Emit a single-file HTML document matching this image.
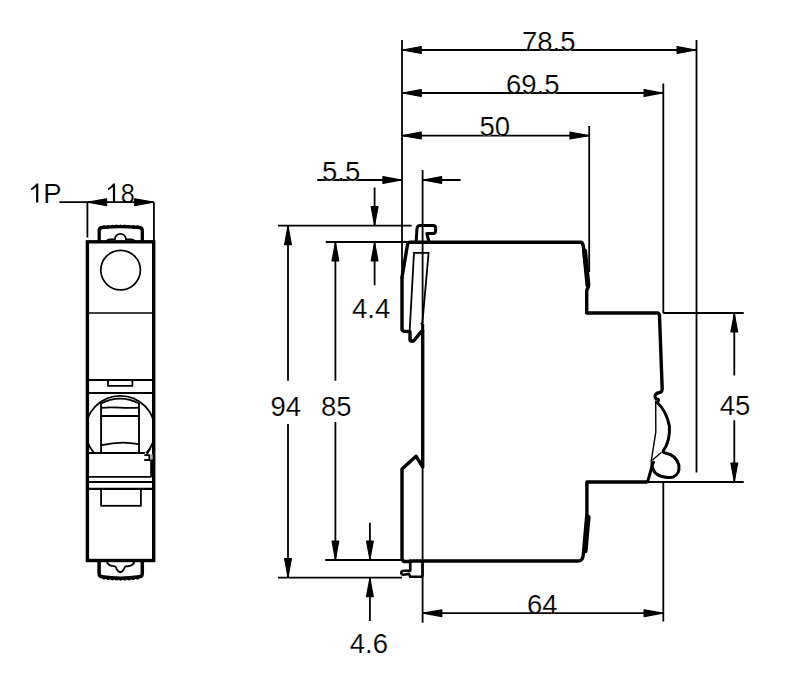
<!DOCTYPE html>
<html><head><meta charset="utf-8">
<style>
html,body{margin:0;padding:0;background:#fff;}
svg{display:block;}
text{font-family:"Liberation Sans",sans-serif;font-size:27.5px;fill:#000;stroke:#fff;stroke-width:0.2px;}
.t{stroke:#000;stroke-width:1.8;fill:none;stroke-linecap:butt;}
.k{stroke:#000;stroke-width:3.4;fill:none;stroke-linejoin:round;stroke-linecap:round;}
.m{stroke:#000;stroke-width:2.3;fill:none;stroke-linejoin:round;stroke-linecap:round;}
.a{fill:#000;stroke:#000;stroke-width:1.2;stroke-linejoin:round;}
</style></head>
<body>
<svg width="792" height="696" viewBox="0 0 792 696">
<rect width="792" height="696" fill="#fff"/>

<!-- ===== LEFT FRONT VIEW ===== -->
<path fill="#000" d="M38.3,183.6V202.6H36.1V187Q34.3,189 31.1,190.2V188.4Q34.6,186.4 36.5,183.6Z"/>
<text x="43.3" y="203">P</text>
<path fill="#000" d="M115.1,183.6V202.2H112.9V187Q111.1,189 107.9,190.2V188.4Q111.4,186.4 113.3,183.6Z"/>
<text transform="translate(127.9,203) scale(0.92,1)" text-anchor="middle">8</text>
<path class="t" d="M59.4,202.2H153.9M87.4,202.2V237.5M153.9,202.2V241"/>
<polygon class="a" points="87.9,202.2 106.6,205.6 106.6,198.8"/>
<polygon class="a" points="153.4,202.2 134.7,198.8 134.7,205.6"/>

<!-- body -->
<rect class="k" x="87.4" y="241.8" width="66.3" height="318.7" style="stroke-linejoin:miter"/>
<!-- top cap -->
<path class="m" style="stroke-width:3.3" d="M99.2,241.5V230.6Q99.2,227.8 102,227.5Q120.5,225.9 139.5,227.5Q142.3,227.8 142.3,230.6V241.5"/>
<path class="t" style="stroke-width:1.7" d="M106.6,241Q107.5,239.3 109.5,239.3H114.9A5.5,5.5 0 0 1 125.9,239.3H131.5Q133.5,239.3 134.9,241"/>
<circle class="t" cx="120.6" cy="270.1" r="19.8" style="stroke-width:1.7"/>
<path class="t" d="M87.4,313H153.5" style="stroke-width:1.7"/>
<path class="t" d="M87.4,380H153.5M87.4,393H153.5"/>
<path class="t" style="stroke-width:1.8" d="M108,380V385.8H132.4V380"/>
<!-- big circle clipped -->
<clipPath id="bodyclip"><rect x="87.4" y="393" width="66.3" height="60"/></clipPath>
<circle class="t" cx="120.3" cy="430.4" r="34.6" clip-path="url(#bodyclip)"/>
<!-- toggle -->
<path class="m" style="stroke-width:1.9" d="M101.1,452.5V403.5A39.1,39.1 0 0 1 139,403.5V452.5"/>
<path class="t" d="M101.1,407.8Q110,406.9 120,407.6Q130,408.3 139,407.6"/>
<path class="m" style="stroke-width:2" d="M101.1,415.9H139"/>
<path class="t" style="stroke-width:1.8" d="M102,445.2Q120.4,440.6 138.5,444.2"/>
<path class="m" style="stroke-width:2.2" d="M87.4,453H144"/>
<path class="t" d="M144.3,455.2H149.3V460H144.3M150.5,448L146.6,454.6"/>
<rect x="150.2" y="459.3" width="3" height="18" fill="#000"/>
<rect x="150.2" y="454.3" width="2.5" height="5" fill="#aaa"/>
<path class="t" d="M87.4,476.8H151"/>
<path class="m" style="stroke-width:2" d="M87.4,481.9H153.5"/>
<path class="m" style="stroke-width:2.3" d="M87.4,488.9H153.5"/>
<rect class="t" x="101.1" y="488.9" width="39.8" height="16.9" style="stroke-width:1.8"/>
<!-- bottom cap -->
<path class="m" style="stroke-width:3.5" d="M99.1,560.8V573.5Q99.1,576.4 102,576.8Q120.5,579.6 139.5,576.8Q142.3,576.4 142.3,573.5V560.8"/>
<path class="t" style="stroke-width:1.8" d="M107,561.3A7,4.9 0 0 0 114,566.2Q116,566.6 116.5,568.8Q117.6,571.3 120.3,572.4Q123,571.3 124.1,568.8Q124.6,566.6 126.6,566.2A7,4.9 0 0 0 134.3,561.3"/>

<g fill="#000"><circle cx="104.1" cy="226.9" r="1.7"/><circle cx="108.2" cy="226.7" r="1.7"/><circle cx="112.3" cy="226.5" r="1.7"/><circle cx="116.5" cy="226.3" r="1.7"/><circle cx="120.6" cy="226.3" r="1.7"/><circle cx="124.8" cy="226.3" r="1.7"/><circle cx="129.0" cy="226.5" r="1.7"/><circle cx="133.2" cy="226.7" r="1.7"/><circle cx="137.4" cy="226.9" r="1.7"/><circle cx="104.1" cy="577.7" r="1.9"/><circle cx="108.2" cy="578.2" r="1.9"/><circle cx="112.3" cy="578.5" r="1.9"/><circle cx="116.5" cy="578.7" r="1.9"/><circle cx="120.6" cy="578.8" r="1.9"/><circle cx="124.8" cy="578.7" r="1.9"/><circle cx="129.0" cy="578.5" r="1.9"/><circle cx="133.2" cy="578.2" r="1.9"/><circle cx="137.4" cy="577.7" r="1.9"/></g>
<!-- ===== SIDE VIEW DIMENSIONS ===== -->
<!-- extension lines -->
<path class="t" d="M402,40V277.4M696.5,40V472.5M663.3,83.4V313M663.3,482.6V621.6M589.2,126V272M422.6,170V622.8"/>
<!-- 78.5 -->
<path class="t" d="M402,50H696.3"/>
<polygon class="a" points="402.5,50.0 421.2,53.4 421.2,46.6"/>
<polygon class="a" points="695.8,50.0 677.1,46.6 677.1,53.4"/>
<text x="522" y="50.5">78.5</text>
<!-- 69.5 -->
<path class="t" d="M402,93H663.3"/>
<polygon class="a" points="402.5,93.0 421.2,96.4 421.2,89.6"/>
<polygon class="a" points="662.8,93.0 644.1,89.6 644.1,96.4"/>
<text x="506" y="93.5">69.5</text>
<!-- 50 -->
<path class="t" d="M402,135.6H589.2"/>
<polygon class="a" points="402.5,135.6 421.2,139.0 421.2,132.2"/>
<polygon class="a" points="588.7,135.6 570.0,132.2 570.0,139.0"/>
<text x="479.5" y="136">50</text>
<!-- 5.5 -->
<path class="t" d="M317.2,180H402M422.6,180H460.6"/>
<polygon class="a" points="401.5,180.0 382.9,176.6 382.9,183.4"/>
<polygon class="a" points="423.1,180.0 441.6,183.4 441.6,176.6"/>
<text x="322" y="180.5">5.5</text>
<!-- horizontal ext lines -->
<path class="t" d="M278,225.6H411.6M325.8,242H409M278,577.6H402M325.2,560H402"/>
<!-- 94 -->
<path class="t" d="M288,225.6V380.8M288,424V577.6"/>
<polygon class="a" points="288.0,226.1 284.6,244.6 291.4,244.6"/>
<polygon class="a" points="288.0,577.1 291.4,558.6 284.6,558.6"/>
<text x="270.5" y="415.6">94</text>
<!-- 85 -->
<path class="t" d="M335.4,242V380.8M335.4,422V560"/>
<polygon class="a" points="335.4,242.5 332.0,261.0 338.8,261.0"/>
<polygon class="a" points="335.4,559.5 338.8,541.0 332.0,541.0"/>
<text x="321" y="415.6">85</text>
<!-- 4.4 -->
<path class="t" d="M374.6,187.6V225.6M374.6,242V285.3"/>
<polygon class="a" points="374.6,225.1 378.0,206.6 371.2,206.6"/>
<polygon class="a" points="374.6,242.5 371.2,261.0 378.0,261.0"/>
<text x="352" y="317.8">4.4</text>
<!-- 4.6 -->
<path class="t" d="M369.9,522.8V560M369.9,577.6V621"/>
<polygon class="a" points="369.9,559.5 373.3,541.0 366.5,541.0"/>
<polygon class="a" points="369.9,578.1 366.5,596.6 373.3,596.6"/>
<text x="349.8" y="652.6">4.6</text>
<!-- 64 -->
<path class="t" d="M422.6,613.2H663.3"/>
<polygon class="a" points="423.1,613.2 441.8,616.6 441.8,609.8"/>
<polygon class="a" points="662.8,613.2 644.1,609.8 644.1,616.6"/>
<text x="527" y="613.5">64</text>
<!-- 45 -->
<path class="t" d="M663.3,313H743.7M648,482H743.7M734.3,313V375.4M734.3,420.3V482"/>
<polygon class="a" points="734.3,313.5 730.9,332.0 737.7,332.0"/>
<polygon class="a" points="734.3,481.5 737.7,463.0 730.9,463.0"/>
<text x="719.7" y="415">45</text>

<!-- ===== SIDE VIEW BODY ===== -->
<path class="k" d="M402,277.4L407.6,244Q408,242.2 410,242.2H580.3Q582.6,242 583.2,245.5L588.3,287L586.7,290.5V313H657.2Q659.3,313 659.5,316L662.2,389.5Q662.1,391.8 659.5,392.5L657.4,393.2"/>
<path class="k" d="M646.3,482H586.9V514L583.2,555.6Q582.5,561 578,561H410.2"/>
<path class="k" d="M402,277.4V329.8Q402.3,331 404,331.2L410,331.6V340.3Q410.2,341 411,341H413.6L421.3,331.6L422.7,331V467L416,456.2L402,469V559.6Q403,561.4 405,561.5H410.2"/>
<path stroke="#000" stroke-width="5" stroke-linecap="round" fill="none" d="M584.6,251L587.9,285"/>
<path stroke="#000" stroke-width="4.6" stroke-linecap="round" fill="none" d="M588.3,517L585.3,551"/>
<!-- top clip -->
<path class="m" style="stroke-width:3" d="M416.2,241L417,228.2Q417.4,225.5 420.2,225.5H433Q435.6,225.5 435.6,228.2V230.8Q435.6,233.5 433,233.5H426.8L428.8,241"/>
<!-- slanted inner rect -->
<path class="t" d="M409.6,332L414,252.8H428.6L422.4,322.6L420.8,324.2"/>
<path stroke="#000" stroke-width="3" fill="none" d="M422.7,324V332"/>
<!-- bottom clip -->
<path class="m" style="stroke-width:2.6" d="M410.2,561.5V570.7H403.6Q401.2,571 401.2,572.8Q401.5,574.8 403.5,574.7L409.1,573.9L410.2,576.8H421.6Q422.5,576.8 422.5,575V561"/>
<!-- toggle on right -->
<path class="k" style="stroke-width:3" d="M657.4,393.2Q654.6,394.6 655,397.3Q655.6,399.2 658.2,399.2Q659,400.5 657.2,402.5Q666.5,411 669.4,426Q670.3,441 663.5,450.3Q662.3,452.6 665.5,453Q676.5,455.5 678.9,465Q680,474.5 673,477Q664,479 656.5,474Q651.5,469.5 652,463.5L653.6,462.3"/>
<path class="t" style="stroke-width:1.3" d="M661.5,452.3L652.2,460.3"/>
<path class="t" style="stroke-width:1.4" d="M655.7,400.5L655.8,432.2L651,462.3"/>
<path class="k" style="stroke-width:3" d="M652.7,463.9L648.7,478Q647.8,482 646.3,482"/>
</svg>
</body></html>
